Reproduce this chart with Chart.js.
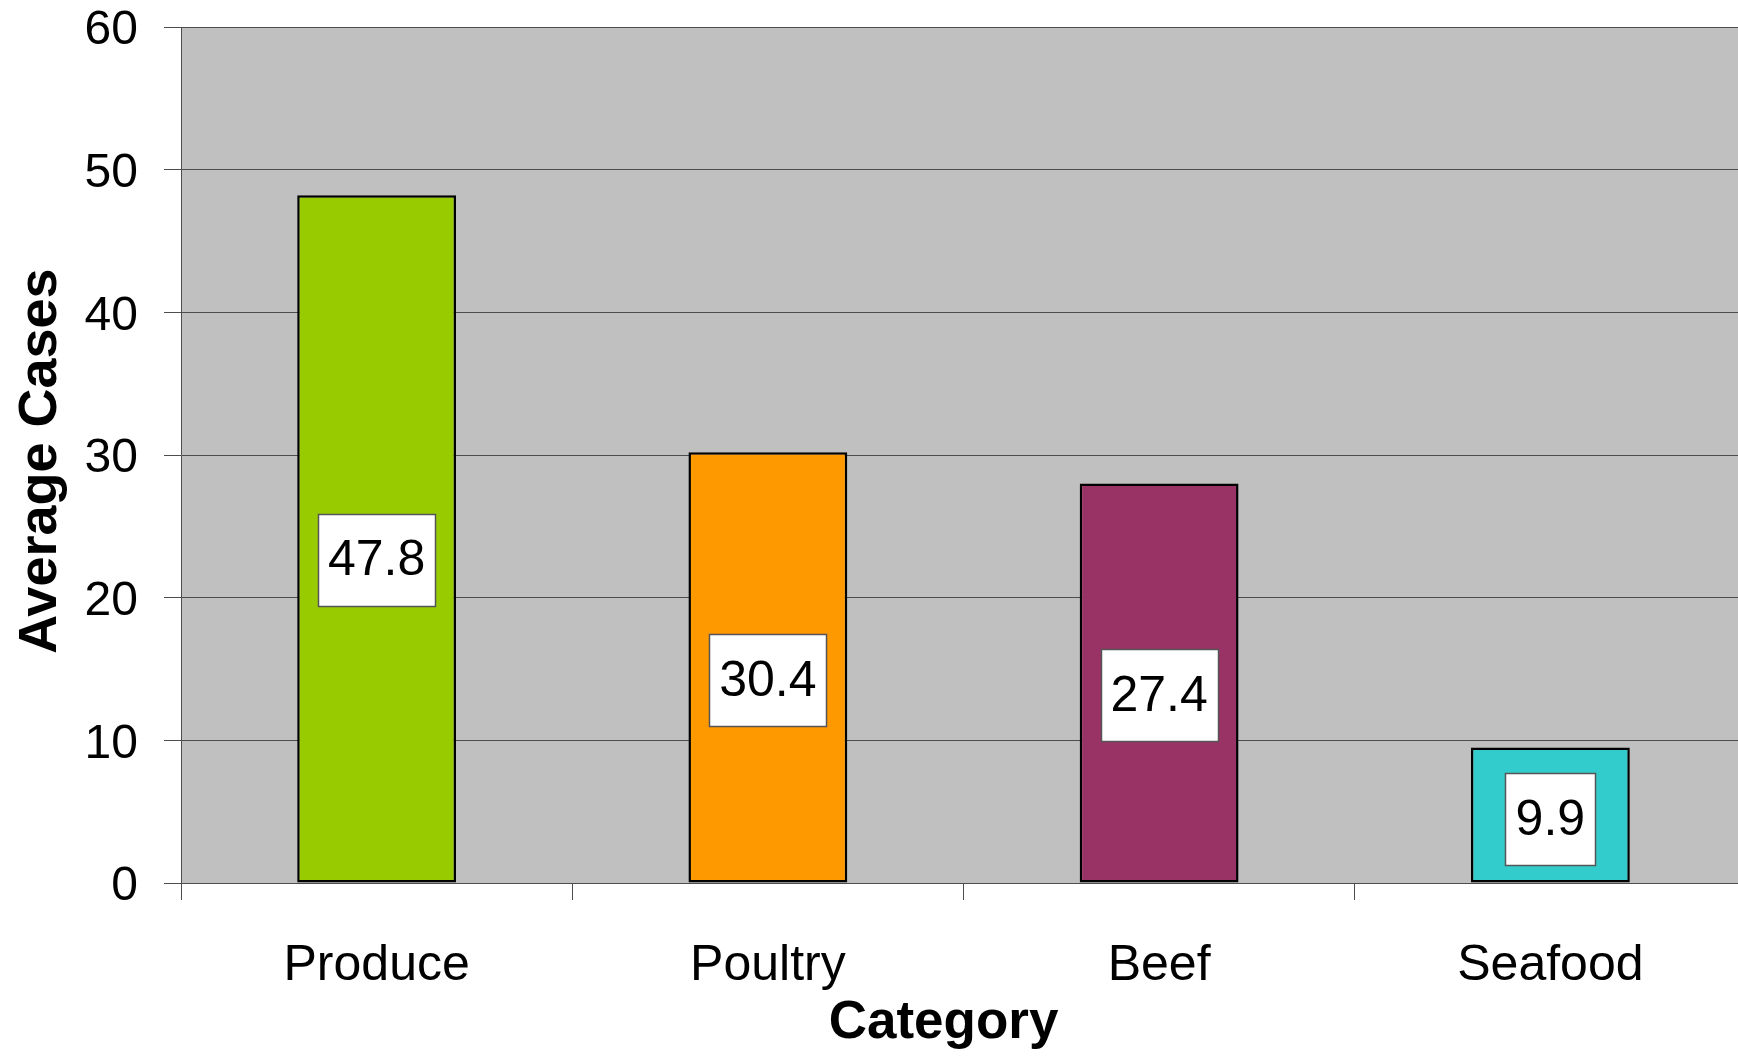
<!DOCTYPE html>
<html>
<head>
<meta charset="utf-8">
<script src="https://cdn.jsdelivr.net/npm/chart.js@4/dist/chart.umd.min.js"></script>
<style>
  html, body { margin: 0; padding: 0; background: #ffffff; overflow: hidden; }
  #wrap { width: 1746px; height: 1058px; }
</style>
</head>
<body>
<div id="wrap"><canvas id="c" width="1746" height="1058"></canvas></div>
<script>
// ---- data ----
const categories = ["Produce", "Poultry", "Beef", "Seafood"];
const barValues = [48.2, 30.2, 28.0, 9.5];          // bar heights as drawn
const valueLabels = ["47.8", "30.4", "27.4", "9.9"]; // printed data labels
const barColors = ["#99CC00", "#FF9900", "#993366", "#33CCCC"];
const yTicks = [0, 10, 20, 30, 40, 50, 60];
const xTitle = "Category";
const yTitle = "Average Cases";

const FONT = "'Liberation Sans', Arial, sans-serif";

const plotBg = {
  id: 'plotBg',
  beforeDraw(chart) {
    const {ctx, chartArea: a} = chart;
    ctx.save();
    ctx.fillStyle = '#C0C0C0';
    ctx.fillRect(a.left, a.top, a.right - a.left, a.bottom - a.top);
    ctx.restore();
  }
};

const axisTitles = {
  id: 'axisTitles',
  afterDraw(chart) {
    const {ctx, chartArea: a} = chart;
    ctx.save();
    ctx.fillStyle = '#000000';
    ctx.textAlign = 'center';
    ctx.textBaseline = 'alphabetic';
    // x title
    ctx.font = "bold 53px " + FONT;
    ctx.fillText(xTitle, (a.left + a.right) / 2 - 20, chart.height - 20);
    // y title
    ctx.font = "bold 54px " + FONT;
    ctx.translate(56, (a.top + a.bottom) / 2 + 6);
    ctx.rotate(-Math.PI / 2);
    ctx.fillText(yTitle, 0, 0);
    ctx.restore();
  }
};

const boxLabels = {
  id: 'boxLabels',
  afterDatasetsDraw(chart) {
    const ctx = chart.ctx;
    const meta = chart.getDatasetMeta(0);
    ctx.save();
    ctx.font = "50px " + FONT;
    ctx.textAlign = 'center';
    ctx.textBaseline = 'middle';
    meta.data.forEach((bar, i) => {
      const txt = valueLabels[i];
      const cy = bar.base - 0.47 * (bar.base - bar.y);
      const w = Math.round(ctx.measureText(txt).width + 20);
      const h = 92;
      const x0 = Math.round(bar.x - w / 2) + 0.5;
      const y0 = Math.round(cy - h / 2) + 0.5;
      ctx.fillStyle = '#ffffff';
      ctx.fillRect(x0, y0, w, h);
      ctx.strokeStyle = '#555555';
      ctx.lineWidth = 1.5;
      ctx.strokeRect(x0, y0, w, h);
      ctx.fillStyle = '#000000';
      ctx.fillText(txt, bar.x, cy + 2);
    });
    ctx.restore();
  }
};

new Chart(document.getElementById('c'), {
  type: 'bar',
  data: {
    labels: categories,
    datasets: [{
      data: barValues,
      backgroundColor: barColors,
      borderColor: '#000000',
      borderWidth: 2.5,
      borderSkipped: false,
      barPercentage: 0.406,
      categoryPercentage: 1.0
    }]
  },
  options: {
    responsive: false,
    animation: false,
    events: [],
    layout: { padding: { top: 27, right: 0, bottom: 0, left: 0 } },
    plugins: {
      legend: { display: false },
      tooltip: { enabled: false },
      title: { display: false }
    },
    scales: {
      x: {
        offset: true,
        grid: {
          offset: true,
          drawOnChartArea: false,
          drawTicks: true,
          tickLength: 17,
          color: '#4d4d4d',
          lineWidth: 1
        },
        border: { display: true, color: '#4d4d4d', width: 1 },
        ticks: {
          color: '#000000',
          font: { family: FONT, size: 50 },
          padding: 36,
          maxRotation: 0
        },
        title: { display: false },
        afterFit(scale) {
          scale.height = 175;
          scale.paddingLeft = 0; scale.paddingRight = 0;
        }
      },
      y: {
        min: 0,
        max: 60,
        afterBuildTicks(scale) { scale.ticks = yTicks.map(v => ({ value: v })); },
        grid: {
          color: '#4d4d4d',
          lineWidth: 1,
          drawTicks: true,
          tickLength: 17
        },
        border: { display: true, color: '#4d4d4d', width: 1 },
        ticks: {
          color: '#000000',
          font: { family: FONT, size: 48 },
          padding: 26,
          labelOffset: 4
        },
        title: { display: false },
        afterFit(scale) {
          scale.width = 181;
          scale.paddingTop = 0; scale.paddingBottom = 0;
        }
      }
    }
  },
  plugins: [plotBg, boxLabels, axisTitles]
});
</script>
</body>
</html>
